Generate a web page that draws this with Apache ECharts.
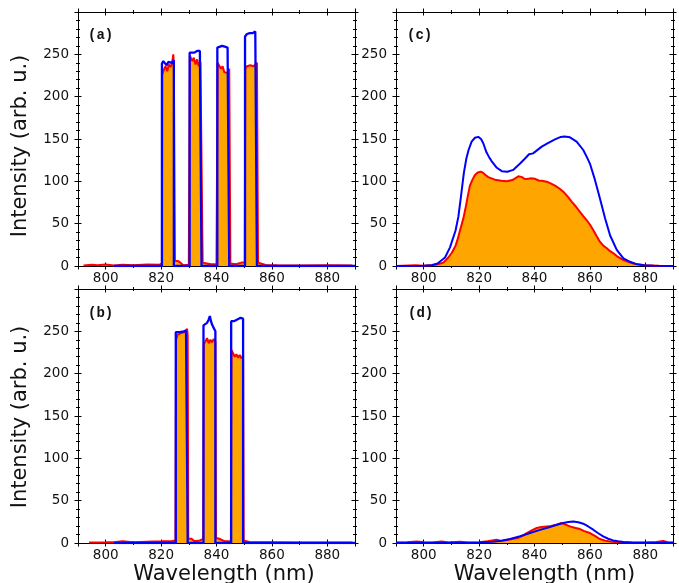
<!DOCTYPE html>
<html>
<head>
<meta charset="utf-8">
<script src="https://cdn.jsdelivr.net/npm/echarts@6/dist/echarts.min.js"></script>
<style>
html,body{margin:0;padding:0;background:#fff;}
#chart{width:679px;height:583px;}
</style>
</head>
<body>
<div id="chart"></div>
<script>
// ---------------- data (wavelength nm, intensity arb. u.) ----------------
const xTickLabels = [800, 820, 840, 860, 880];
const yTickLabels = [0, 50, 100, 150, 200, 250];
const panelLabels = ['(a)', '(c)', '(b)', '(d)'];
const xTitle = 'Wavelength (nm)';
const yTitle = 'Intensity (arb. u.)';

const aBlue = [[803,0],[820.3,0],[820.3,239],[820.8,242],[821.4,241],[822,237],[822.6,241],[823.2,242],[823.9,240],[824.6,243],[824.6,0],
  [830.3,0],[830.3,252],[831,253],[832,252],[833,254],[834,254],[834.6,256],[834.6,0],
  [840.3,0],[840.3,258],[841,259],[842,260],[843,259],[844,258],[844.6,259],[844.6,0],
  [850.3,0],[850.3,271],[851,274],[851.5,272],[852,275],[853,275],[853.5,277],[854,277],[854.6,279],[854.6,0],[890,0]];
const aRed = [[792,0.5],[795,1.5],[797,0.8],[800,1.8],[803,0.6],[806,1.5],[810,1.0],[815,1.8],[819.5,1.5],[820.3,3],[820.4,226],[821,232],[821.6,236],[822.2,230],[822.8,238],[823.4,235],[824,240],[824.4,250],[824.6,238],[825,6],[826,6],[827,4],[828,1],[830,1.5],
  [830.3,3],[830.4,248],[830.8,250],[831.3,242],[831.8,246],[832.4,238],[833,244],[833.6,236],[834.2,241],[834.6,240],[835,4],[836.5,3],[838,2],[840,2],
  [840.3,3],[840.4,240],[841,238],[841.6,233],[842.2,236],[842.8,229],[843.4,231],[844,228],[844.6,233],[845,3],[847,2],[849,4],[850.2,4],
  [850.4,233],[851,236],[851.6,234],[852.2,237],[852.8,235],[853.4,236],[854,236],[854.6,240],[855,4],[856,3],[858,1],[862,0.8],[870,0.5],[880,0.8],[889,0.5]];

const bBlue = [[803,0],[825.3,0],[825.3,249],[826,250],[826.8,249],[827.5,251],[828.2,250],[829,251],[829.6,250],[829.6,0],
  [835.3,0],[835.3,257],[836,258],[836.6,260],[837.2,264],[837.6,268],[838,262],[838.4,258],[839,254],[839.6,250],[839.6,0],
  [845.3,0],[845.3,262],[845.7,264],[846.3,262],[846.9,261.5],[847.5,264],[848.1,265.5],[848.7,266],[849.3,267.5],[849.6,265],[849.6,0],[890,0]];
const bRed = [[794,0.5],[800,0.8],[803,1],[806,2],[810,1],[815,1.5],[820,2],[824,2.5],[825.2,3],[825.4,240],[826,246],[826.6,244],[827.2,248],[827.8,246],[828.4,249],[829,250],[829.4,253],[829.6,245],[829.8,5],[831,5],[832,2],[834,3],
  [835.2,5],[835.4,235],[836,238],[836.6,242],[837.2,236],[837.8,240],[838.4,237],[839,241],[839.6,238],[839.8,6],[841,5],[843,2],
  [845.2,2],[845.4,228],[846,226],[846.6,220],[847.2,223],[847.8,219],[848.4,222],[849,218],[849.6,221],[849.8,3],[852,1],[860,0.8],[870,0.5],[889,0.5]];

const cBlue = [[790,0],[800,0.3],[803,1],[805,3],[807.7,10],[809.5,22],[811.5,42],[812.5,58],[813.3,78],[814.5,110],[815.4,127],[816.2,137],[817.3,147],[818.5,151.5],[819.7,152.5],[820.7,150],[821.5,145],[822.7,134],[823.7,128],[824.5,124],[826.4,116],[828.2,112],[830.2,111.4],[832.3,113.5],[834.8,121],[837.2,129],[838,132],[839.5,133],[840.2,134.5],[842.6,141],[845,145.5],[847.4,149.6],[849.5,152.5],[850.8,153],[852.8,152],[855.2,147],[857.6,137],[859,128],[860,121],[861.8,102],[863.6,80],[865.5,56],[867.3,36],[869.7,19],[872.1,9],[874.5,5],[876.5,2.5],[879.3,1],[883,0.3],[890,0]];
const cRed = [[790,0],[797,0.8],[800,0.4],[803,1.2],[805,2],[807.1,4],[808.9,10],[810.2,16],[811.5,24],[812.3,32],[813.1,42],[814.3,56],[815.2,70],[816,84],[816.7,95],[817.6,102],[818.5,107.5],[819.5,110.5],[820.6,111.5],[821.5,110],[822.3,107.5],[823.3,105],[825.7,102],[828,100.8],[830,100],[832,101.5],[833,103.5],[834.2,106],[834.8,108.3],[835.5,105],[836.3,103],[837.2,102.7],[838.5,103.5],[840.2,103],[841.5,101],[842.6,100.7],[844.4,99.6],[846,97.2],[847.4,94.9],[849,91.5],[850.4,87.8],[852,82],[853.4,76],[855,70],[856.4,64],[857.6,59],[858.8,54.3],[860,49],[861.2,42.5],[862.4,35.5],[863.6,28.7],[864.8,24],[866.1,20.9],[867.3,17.5],[868.5,15],[870,11],[871.5,8],[873.3,5.5],[875,3.5],[877,2],[880,0.8],[885,0.3],[890,0]];

const dBlue = [[790,0.3],[810,0.3],[820,0.6],[825,1.5],[828,2.7],[831.2,4.7],[834.8,8],[838.4,11.8],[842,15.5],[845.6,18.9],[848,21.5],[850.4,23.6],[852.2,24.8],[854,25.3],[855.8,24.6],[857.6,22.8],[859.4,19.5],[861.2,15.7],[863,11.5],[864.8,7.8],[866.6,5],[868.4,3.1],[870.2,2],[872.1,1.2],[875,0.6],[880,0.3],[890,0.3]];
const dRed = [[790,0.5],[794,1],[797.5,1.8],[800,0.8],[803,0.6],[806.5,1.8],[809,0.7],[813,1.4],[816,0.5],[820,1],[823,2],[826.3,4],[828,2.5],[830,3.5],[832.3,5],[834,6],[836,9],[837.2,11.8],[839,15],[840.8,17.7],[842.5,19],[844.4,19.6],[846,20],[848,21.6],[849.8,23.6],[851,22],[852.8,19.6],[854.5,18],[856.4,16.5],[858,14],[860,11.8],[861.8,8.5],[863.6,4.7],[865.5,2.8],[867.3,1.9],[870,1],[875,0.5],[880,0.6],[884,1.2],[886.5,2.5],[888,1],[890,0.5]];

const panelData = [[aRed, aBlue], [cRed, cBlue], [bRed, bBlue], [dRed, dBlue]];

// ---------------- layout / style ----------------
const grids = [
  {left: 78, top: 12, width: 277, height: 254},
  {left: 396, top: 12, width: 277, height: 254},
  {left: 78, top: 289, width: 277, height: 254},
  {left: 396, top: 289, width: 277, height: 254}
];
const blueWidths = [2.3, 2, 2.3, 2];
const BLACK = '#000';
const tickFont = {fontFamily: 'DejaVu Sans', fontSize: 13.5, color: '#111'};
const MAJ = 3.5, MIN = 2;

const xAxes = [], yAxes = [], series = [];
const mainX = [], mainY = [];

grids.forEach((g, gi) => {
  ['bottom', 'top'].forEach(pos => {
    [false, true].forEach(inside => {
      const isMain = pos === 'bottom' && !inside;
      if (isMain) mainX.push(xAxes.length);
      xAxes.push({
        type: 'value', gridIndex: gi, position: pos, min: 790, max: 890, splitNumber: 5,
        axisLine: {show: !inside, onZero: false, lineStyle: {color: BLACK, width: 1}},
        axisTick: {show: true, inside: inside, length: MAJ, lineStyle: {color: BLACK, width: 1}},
        axisLabel: {show: isMain, margin: 5, ...tickFont,
          formatter: v => xTickLabels.includes(Math.round(v)) && Math.abs(v - Math.round(v)) < 1e-6 ? String(Math.round(v)) : ''},
        splitLine: {show: false}
      });
      xAxes.push({
        type: 'value', gridIndex: gi, position: pos, min: 790, max: 890, interval: 10,
        axisLine: {show: false, onZero: false},
        axisTick: {show: true, inside: inside, length: MIN, lineStyle: {color: BLACK, width: 1}},
        axisLabel: {show: false}, splitLine: {show: false}
      });
    });
  });
  ['left', 'right'].forEach(pos => {
    [false, true].forEach(inside => {
      const isMain = pos === 'left' && !inside;
      if (isMain) mainY.push(yAxes.length);
      yAxes.push({
        type: 'value', gridIndex: gi, position: pos, min: 0, max: 300, interval: 50,
        axisLine: {show: !inside, onZero: false, lineStyle: {color: BLACK, width: 1}},
        axisTick: {show: true, inside: inside, length: MAJ, lineStyle: {color: BLACK, width: 1}},
        minorTick: {show: true, splitNumber: 5, length: MIN, lineStyle: {color: BLACK, width: 1}},
        axisLabel: {show: isMain, margin: 9, ...tickFont,
          formatter: v => yTickLabels.includes(v) ? String(v) : ''},
        splitLine: {show: false}, minorSplitLine: {show: false}
      });
    });
  });

  const [red, blue] = panelData[gi];
  series.push({
    type: 'line', xAxisIndex: mainX[gi], yAxisIndex: mainY[gi], data: red,
    showSymbol: false, symbol: 'none', smooth: false, z: 2,
    lineStyle: {color: '#ff0000', width: 2},
    areaStyle: {color: '#ffa500', opacity: 1, origin: 0}
  });
  series.push({
    type: 'line', xAxisIndex: mainX[gi], yAxisIndex: mainY[gi], data: blue,
    showSymbol: false, symbol: 'none', smooth: false, z: 3,
    lineStyle: {color: '#0000ff', width: blueWidths[gi]}
  });
});

const labelPos = [[88, 36], [407, 36], [88, 314], [408, 314]];
const graphics = [];
panelLabels.forEach((t, i) => {
  graphics.push({type: 'text', left: labelPos[i][0], top: labelPos[i][1] - 8,
    style: {text: t, font: 'bold 14px "Liberation Mono", monospace', fill: '#111'}});
});
[[21, 146], [21, 417]].forEach(p => {
  graphics.push({type: 'text', x: p[0], y: p[1], rotation: Math.PI / 2,
    style: {text: yTitle, font: '21px "DejaVu Sans"', fill: '#111', align: 'center', verticalAlign: 'middle'}});
});
[[224, 575], [544.5, 575]].forEach(p => {
  graphics.push({type: 'text', x: p[0], y: p[1],
    style: {text: xTitle, font: '21px "DejaVu Sans"', fill: '#111', align: 'center', verticalAlign: 'middle'}});
});

const chart = echarts.init(document.getElementById('chart'), null, {renderer: 'canvas'});
chart.setOption({
  animation: false,
  backgroundColor: '#fff',
  grid: grids,
  xAxis: xAxes,
  yAxis: yAxes,
  series: series,
  graphic: graphics
});
</script>
</body>
</html>
